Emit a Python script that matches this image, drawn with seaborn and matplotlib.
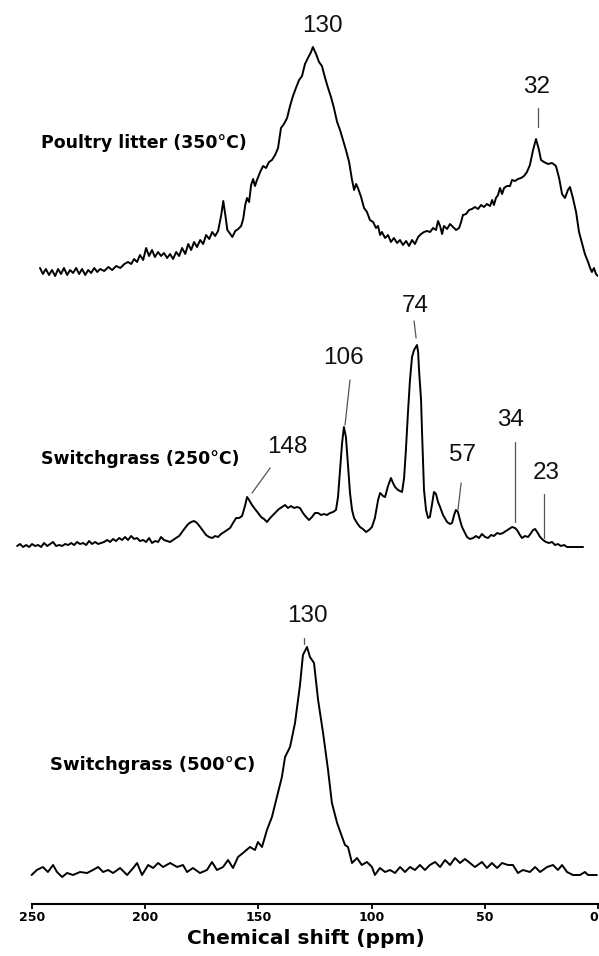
import numpy as np
import pandas as pd
import matplotlib
matplotlib.use("Agg")
import matplotlib.pyplot as plt
import seaborn as sns

# ---------------- data (chemical shift in ppm, intensity in arbitrary units) ----------------
poultry_ppm = [246.5, 245.2, 243.9, 242.5, 241.2, 239.8, 238.5, 237.2, 235.9, 234.5,
               233.2, 231.9, 230.5, 229.2, 227.9, 226.5, 225.2, 223.9, 222.5, 221.2,
               219.9, 218.1, 216.3, 214.6, 212.8, 211.0, 209.2, 207.6, 206.2, 204.9,
               203.6, 202.3, 200.9, 199.6, 198.3, 197.0, 195.7, 194.3, 193.0, 191.7,
               190.3, 189.0, 187.7, 186.3, 185.0, 183.7, 182.3, 181.0, 179.7, 178.4,
               177.1, 175.7, 174.4, 173.1, 171.7, 170.4, 169.1, 167.8, 166.4, 165.5,
               164.6, 163.7, 162.4, 161.5, 160.2, 158.9, 157.6, 156.7, 155.8, 155.0,
               154.1, 153.2, 152.3, 151.5, 150.6, 149.2, 147.9, 146.6, 145.3, 144.0,
               142.6, 141.3, 140.0, 138.7, 137.3, 136.0, 134.7, 133.4, 132.0, 130.7,
               129.4, 128.1, 126.7, 125.9, 124.5, 123.2, 121.9, 120.5, 119.2, 117.9,
               116.6, 115.2, 113.9, 112.6, 111.3, 109.9, 108.6, 107.7, 106.8, 106.0,
               104.6, 103.3, 102.0, 100.7, 99.3, 98.0, 97.1, 96.2, 95.4, 94.0,
               92.7, 91.4, 90.1, 88.7, 87.4, 86.1, 84.7, 83.4, 82.1, 80.8,
               79.4, 78.1, 76.8, 75.5, 74.1, 72.8, 71.5, 70.6, 69.7, 68.8,
               68.0, 66.6, 65.3, 64.0, 62.6, 61.3, 60.4, 59.6, 58.2, 56.9,
               55.6, 54.3, 52.9, 51.6, 50.3, 49.0, 47.6, 46.7, 45.9, 45.0,
               44.1, 43.2, 42.3, 41.4, 40.1, 38.8, 37.9, 36.6, 35.3, 33.9,
               32.6, 31.3, 30.0, 28.6, 27.3, 26.0, 25.1, 23.8, 22.0, 20.2,
               18.5, 17.1, 15.8, 14.5, 13.2, 12.3, 11.0, 9.6, 8.3, 7.0,
               5.7, 4.3, 3.4, 2.6, 1.7, 0.8, 0.0]
poultry_int = [4, -2, 3, -3, 2, -4, 3, -2, 4, -3,
               2, -1, 4, -2, 3, -3, 2, -1, 4, 0,
               3, 1, 5, 2, 6, 4, 8, 10, 8, 13,
               10, 17, 12, 24, 16, 22, 15, 20, 16, 19,
               14, 18, 13, 20, 16, 24, 18, 28, 22, 30,
               25, 32, 28, 37, 33, 40, 36, 41, 57, 71,
               57, 42, 38, 35, 41, 43, 46, 53, 67, 74,
               70, 87, 93, 86, 92, 100, 106, 104, 110, 112,
               117, 124, 144, 148, 154, 166, 176, 184, 192, 196,
               208, 214, 220, 225, 218, 210, 206, 194, 184, 175,
               164, 150, 142, 132, 122, 110, 92, 82, 88, 84,
               75, 64, 60, 52, 50, 44, 46, 37, 40, 34,
               37, 30, 34, 29, 32, 27, 31, 26, 32, 28,
               35, 38, 40, 41, 40, 44, 42, 51, 46, 38,
               46, 43, 48, 45, 42, 44, 50, 57, 58, 62,
               63, 65, 63, 67, 65, 68, 66, 72, 67, 74,
               77, 84, 78, 84, 86, 86, 92, 91, 93, 94,
               96, 100, 107, 122, 133, 122, 112, 110, 108, 109,
               106, 94, 78, 74, 82, 85, 74, 60, 40, 29,
               18, 10, 4, 0, 4, -2, -4]

sg250_ppm = [256.6, 255.3, 254.0, 252.6, 251.3, 250.0, 248.7, 247.3, 246.0, 244.7,
             243.3, 242.0, 240.7, 239.4, 238.0, 236.7, 235.4, 234.0, 232.7, 231.4,
             230.1, 228.8, 227.4, 226.1, 224.8, 223.5, 222.1, 220.8, 219.5, 218.2,
             216.8, 215.5, 214.2, 212.9, 211.5, 210.2, 208.9, 207.6, 206.2, 204.9,
             203.6, 202.3, 200.9, 199.6, 198.3, 197.0, 195.6, 194.3, 193.0, 191.7,
             190.3, 189.0, 187.7, 186.4, 185.0, 183.7, 182.4, 181.0, 179.7, 178.4,
             177.1, 175.7, 174.4, 173.1, 171.8, 170.4, 169.1, 167.8, 166.5, 165.1,
             163.8, 162.5, 161.2, 159.8, 158.5, 157.2, 155.8, 155.0, 154.1, 152.8,
             151.5, 150.1, 148.8, 147.5, 146.2, 144.8, 143.5, 142.2, 140.9, 139.5,
             138.2, 136.9, 135.6, 134.2, 132.9, 131.6, 130.3, 128.9, 127.6, 126.3,
             125.0, 123.6, 122.3, 121.0, 119.7, 118.3, 117.0, 115.7, 114.8, 113.9,
             113.0, 112.2, 111.3, 110.4, 109.5, 108.6, 107.7, 106.4, 105.1, 103.8,
             102.4, 101.1, 99.8, 98.5, 97.1, 96.2, 94.9, 94.0, 92.7, 91.4,
             90.5, 89.6, 88.3, 86.5, 85.6, 84.8, 83.9, 83.0, 82.1, 81.2,
             79.9, 79.4, 79.0, 78.1, 77.7, 76.8, 75.9, 75.0, 74.2, 73.3,
             72.4, 71.5, 70.6, 69.7, 68.4, 66.6, 65.3, 64.4, 63.5, 62.7,
             61.8, 60.9, 60.0, 58.7, 57.8, 56.5, 55.1, 53.8, 52.5, 51.2,
             49.8, 48.5, 47.2, 45.9, 44.5, 43.2, 41.9, 40.6, 39.2, 37.9,
             36.6, 35.7, 34.4, 33.5, 32.2, 30.8, 29.5, 28.6, 27.7, 26.8,
             25.5, 24.2, 22.9, 21.6, 20.2, 18.9, 17.6, 16.3, 14.9, 13.6,
             11.0, 8.7, 6.5]
sg250_int = [1, 3, 0, 2, 0, 3, 1, 2, 0, 4,
             1, 3, 5, 1, 2, 1, 3, 2, 4, 2,
             5, 3, 4, 2, 6, 3, 5, 3, 4, 5,
             7, 5, 8, 6, 9, 7, 10, 7, 11, 8,
             9, 6, 7, 5, 9, 4, 6, 5, 10, 7,
             6, 5, 7, 9, 11, 15, 19, 23, 25, 26,
             24, 20, 16, 12, 10, 9, 11, 10, 13, 15,
             17, 19, 24, 29, 29, 31, 42, 50, 47, 42,
             38, 34, 30, 28, 25, 29, 32, 35, 38, 40,
             42, 39, 41, 39, 40, 39, 34, 30, 27, 30,
             34, 34, 32, 33, 32, 34, 35, 37, 50, 77,
             104, 120, 110, 82, 54, 37, 29, 24, 20, 18,
             15, 17, 20, 29, 47, 54, 51, 50, 61, 69,
             64, 60, 57, 55, 69, 97, 134, 167, 190, 197,
             202, 195, 177, 147, 117, 57, 37, 29, 30, 42,
             55, 53, 45, 40, 32, 25, 23, 24, 32, 37,
             35, 27, 20, 14, 10, 8, 9, 11, 9, 13,
             10, 9, 12, 11, 14, 13, 14, 16, 18, 20,
             19, 17, 12, 9, 11, 10, 14, 17, 18, 15,
             10, 7, 5, 4, 5, 2, 3, 1, 2, 0,
             0, 0, 0]

sg500_ppm = [250.2, 247.9, 245.2, 243.0, 240.7, 239.0, 236.7, 234.5, 231.9, 228.8,
             225.7, 223.1, 220.8, 218.6, 216.4, 214.2, 211.1, 208.0, 205.3, 203.6,
             201.4, 198.7, 196.5, 194.3, 192.1, 189.0, 185.9, 183.3, 181.5, 178.9,
             175.8, 172.7, 170.5, 168.3, 165.6, 163.4, 161.2, 159.0, 156.8, 153.7,
             151.5, 150.2, 148.4, 146.2, 144.0, 141.8, 139.6, 138.2, 136.0, 133.8,
             131.6, 130.3, 128.5, 127.2, 125.4, 123.6, 121.4, 119.2, 117.5, 115.2,
             113.0, 111.7, 110.4, 108.6, 106.4, 104.3, 102.0, 99.8, 98.5, 96.3,
             94.0, 91.8, 89.6, 87.4, 85.2, 83.0, 80.8, 78.6, 76.4, 74.2,
             71.9, 69.7, 67.5, 65.3, 63.1, 60.9, 58.7, 56.5, 54.3, 51.2,
             49.0, 46.8, 44.5, 42.3, 39.7, 37.5, 35.3, 33.1, 30.0, 27.7,
             25.5, 22.4, 19.8, 17.6, 15.8, 13.6, 11.0, 7.9, 5.7, 4.3,
             0.4]
sg500_int = [-3, 2, 5, 0, 7, 0, -5, -1, -3, 0,
             -1, 2, 5, 0, 2, -1, 4, -3, 4, 9,
             -3, 7, 4, 9, 5, 9, 5, 7, 0, 4,
             -1, 2, 10, 2, 5, 12, 4, 15, 19, 25,
             22, 30, 25, 42, 55, 75, 95, 115, 125, 149,
             187, 217, 225, 215, 209, 172, 139, 102, 69, 49,
             35, 27, 25, 9, 14, 7, 10, 5, -3, 4,
             0, 2, -1, 5, 0, 5, 2, 7, 2, 7,
             10, 5, 12, 7, 14, 9, 13, 9, 5, 10,
             4, 9, 4, 9, 7, 7, -1, 2, 0, 5,
             0, 5, 7, 2, 7, 0, -3, -3, 0, -3,
             -3]

sample_names = ["Poultry litter (350°C)", "Switchgrass (250°C)", "Switchgrass (500°C)"]
peak_labels = [["130", "32"],
               ["148", "106", "74", "57", "34", "23"],
               ["130"]]
x_ticks = [250, 200, 150, 100, 50, 0]
x_tick_labels = ["250", "200", "150", "100", "50", "0"]
x_title = "Chemical shift (ppm)"

# ---------------- layout constants ----------------
offsets = [631.7, 356.7, 31.7]                        # vertical stacking offsets
name_pos = [(246.2, 760.7), (246.2, 444.7), (242.1, 138.7)]
name_size = [12.5, 12.5, 13.0]
label_pos = [[(121.9, 877.7), (26.9, 816.7)],
             [(137.3, 456.7), (112.6, 545.7), (80.8, 597.7), (60.0, 448.7), (38.4, 483.7), (22.9, 430.7)],
             [(128.5, 287.7)]]
leader_lines = [[None, ((26.5, 795.7), (26.5, 776.7))],
                [((144.8, 435.7), (152.8, 410.7)), ((109.5, 523.7), (111.7, 478.7)),
                 ((81.2, 582.7), (80.3, 565.7)), ((60.4, 420.7), (61.8, 393.7)),
                 ((36.6, 461.7), (36.6, 381.7)), ((23.8, 409.7), (23.8, 365.7))],
                [((129.8, 265.7), (129.8, 259.7))]]

sns.set_style("white")
plt.rcParams["font.family"] = ["DejaVu Sans"]

fig = plt.figure(figsize=(5.99, 9.56), dpi=100)
ax = fig.add_axes([13.5 / 599, 52.3 / 956, 584.3 / 599, 903.7 / 956])

spectra = [(poultry_ppm, poultry_int), (sg250_ppm, sg250_int), (sg500_ppm, sg500_int)]
for i, (ppm, inten) in enumerate(spectra):
    df = pd.DataFrame({"ppm": ppm, "intensity": np.array(inten, dtype=float) + offsets[i]})
    sns.lineplot(data=df, x="ppm", y="intensity", ax=ax, color="black", linewidth=1.4,
                 estimator=None, sort=False, legend=False)
    ax.text(name_pos[i][0], name_pos[i][1], sample_names[i], ha="left", va="center",
            fontsize=name_size[i], fontweight="bold", color="black")
    for j, lab in enumerate(peak_labels[i]):
        px, py = label_pos[i][j]
        ax.text(px, py, lab, ha="center", va="center", fontsize=17.5,
                family=["Liberation Sans", "DejaVu Sans"], color="#111111")
        seg = leader_lines[i][j]
        if seg is not None:
            ax.plot([seg[0][0], seg[1][0]], [seg[0][1], seg[1][1]],
                    color="#555555", linewidth=0.9)

ax.set_xlim(258.2, 0)
ax.set_ylim(0, 903.7)
ax.set_xticks(x_ticks)
ax.set_xticklabels(x_tick_labels, fontsize=9, fontweight="bold", color="black")
ax.get_xticklabels()[-1].set_horizontalalignment("right")
ax.set_yticks([])
ax.set_ylabel("")
ax.set_xlabel(x_title, fontsize=14.5, fontweight="bold", labelpad=4, color="black")
for s in ["top", "left", "right"]:
    ax.spines[s].set_visible(False)
ax.spines["bottom"].set_bounds(0, 250)
ax.spines["bottom"].set_linewidth(1.5)
ax.spines["bottom"].set_color("black")
ax.tick_params(axis="x", direction="out", length=3.6, width=1.3, pad=1.5,
               bottom=True, colors="black")
ax.patch.set_alpha(0)

fig.savefig("out.png", dpi=100)
